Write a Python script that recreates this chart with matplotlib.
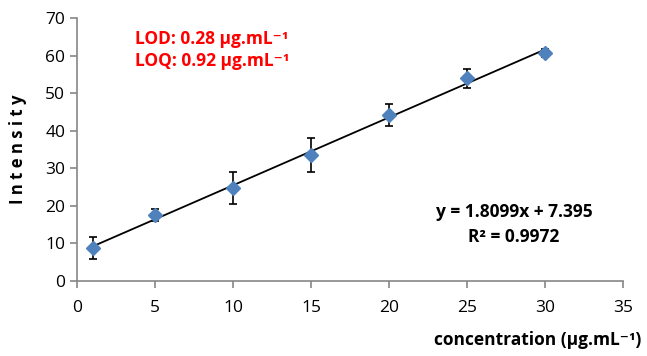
import numpy as np
import matplotlib.pyplot as plt

# Calibration data
conc = [1, 5, 10, 15, 20, 25, 30]
intensity = [8.7, 17.6, 24.8, 33.6, 44.3, 54.0, 60.7]
err = [2.9, 1.7, 4.2, 4.6, 2.9, 2.5, 1.0]

slope = 1.8099
intercept = 7.395

plt.rcParams['font.family'] = ['Open Sans', 'DejaVu Sans']

fig = plt.figure(figsize=(6.47, 3.56), dpi=100)
ax = fig.add_axes([0.119, 0.2107, 0.844, 0.738])

xf = np.array([conc[0], conc[-1]])
ax.plot(xf, slope * xf + intercept, color='black', lw=1.3, zorder=2)
ax.errorbar(conc, intensity, yerr=err, fmt='D', color='#4f81bd', ms=7.5,
            ecolor='black', elinewidth=1.2, capsize=3, capthick=1.2, zorder=3)

ax.set_xlim(0, 35)
ax.set_ylim(0, 70)
ax.set_xticks(range(0, 36, 5))
ax.set_yticks(range(0, 71, 10))
for s in ['top', 'right']:
    ax.spines[s].set_visible(False)
for s in ['left', 'bottom']:
    ax.spines[s].set_color('#868686')
    ax.spines[s].set_linewidth(1.2)
ax.tick_params(direction='out', color='#868686', length=5, width=1.2,
               labelsize=12.5, colors='black')
ax.tick_params(axis='x', pad=9, color='#868686')
ax.tick_params(axis='y', color='#868686')

fig.text(0.028, 0.58, 'I n t e n s i t y', rotation=90, fontsize=12,
         fontweight='bold', ha='center', va='center')
fig.text(0.992, 0.02, 'concentration (µg.mL⁻¹)', fontsize=12.5,
         fontweight='bold', ha='right', va='bottom')

ax.text(3.7, 64.5, 'LOD: 0.28 µg.mL⁻¹', color='red', fontsize=12.5,
        fontweight='bold', va='center')
ax.text(3.7, 58.6, 'LOQ: 0.92 µg.mL⁻¹', color='red', fontsize=12.5,
        fontweight='bold', va='center')
ax.text(28.0, 18.5, 'y = 1.8099x + 7.395', fontsize=12.5, fontweight='bold',
        ha='center', va='center')
ax.text(28.0, 11.8, 'R² = 0.9972', fontsize=12.5, fontweight='bold',
        ha='center', va='center')

fig.savefig('out.png', dpi=100)
